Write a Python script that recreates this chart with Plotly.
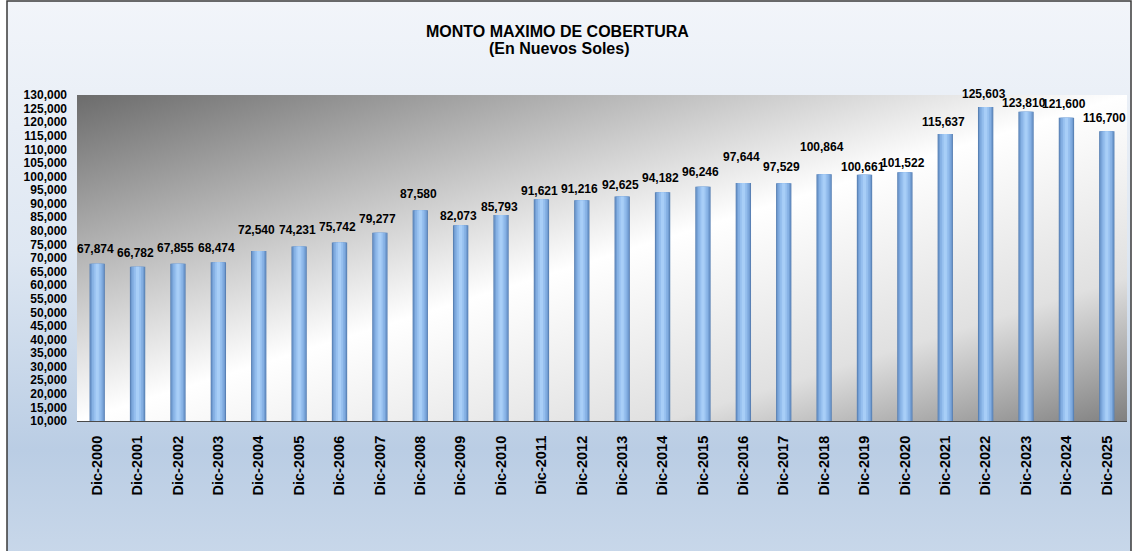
import base64
import plotly.graph_objects as go

# ---- data ----
categories = ["Dic-2000", "Dic-2001", "Dic-2002", "Dic-2003", "Dic-2004", "Dic-2005",
              "Dic-2006", "Dic-2007", "Dic-2008", "Dic-2009", "Dic-2010", "Dic-2011",
              "Dic-2012", "Dic-2013", "Dic-2014", "Dic-2015", "Dic-2016", "Dic-2017",
              "Dic-2018", "Dic-2019", "Dic-2020", "Dic-2021", "Dic-2022", "Dic-2023",
              "Dic-2024", "Dic-2025"]
values = [67874, 66782, 67855, 68474, 72540, 74231, 75742, 79277, 87580, 82073,
          85793, 91621, 91216, 92625, 94182, 96246, 97644, 97529, 100864, 100661,
          101522, 115637, 125603, 123810, 121600, 116700]
title_line1 = "MONTO MAXIMO DE COBERTURA"
title_line2 = "(En Nuevos Soles)"
y_min, y_max, y_step = 10000, 130000, 5000

# label lift above each bar top (pixels, style only), as placed in the original chart
label_lift = [15, 14, 16, 14, 21, 17, 15, 14, 16, 9, 8, 8, 11, 12, 14, 15,
              26, 16, 27, 8, 9, 12, 13, 9, 14, 13]

W, H = 1137, 551
L, R, T, B = 77, 10, 95, 130
PW, PH = W - L - R, H - T - B

FONT = "Liberation Sans, Arial, sans-serif"


def svg_uri(svg):
    return "data:image/svg+xml;base64," + base64.b64encode(svg.encode()).decode()


paper_svg = f"""<svg xmlns='http://www.w3.org/2000/svg' width='{W}' height='{H}' viewBox='0 0 {W} {H}' preserveAspectRatio='none'>
<defs><linearGradient id='g' x1='0' y1='0' x2='0' y2='1'>
<stop offset='0' stop-color='#F2F5FA'/>
<stop offset='0.45' stop-color='#DEE7F2'/>
<stop offset='0.8' stop-color='#BACDE4'/>
<stop offset='1' stop-color='#C9D8EA'/>
</linearGradient></defs>
<rect x='0' y='0' width='{W}' height='{H}' fill='#ffffff'/>
<rect x='7' y='1' width='{W-13}' height='{H+10}' fill='url(#g)' stroke='#3a3a3a' stroke-width='1.5'/>
</svg>"""

plot_svg = f"""<svg xmlns='http://www.w3.org/2000/svg' width='{PW}' height='{PH}' viewBox='0 0 {PW} {PH}' preserveAspectRatio='none'>
<defs><linearGradient id='p' x1='0' y1='0' x2='1' y2='1'>
<stop offset='0' stop-color='#6C6C6C'/>
<stop offset='0.5' stop-color='#FFFFFF'/>
<stop offset='0.78' stop-color='#E0E0E0'/>
<stop offset='1' stop-color='#808080'/>
</linearGradient></defs>
<rect x='0' y='0' width='{PW}' height='{PH}' fill='url(#p)'/>
</svg>"""

fig = go.Figure()

# cylinder-like bars: stacked overlay layers, widest (darkest) first
layers = [(0.38, "#5A82B5"), (0.33, "#729DD2"), (0.26, "#86B1E4"), (0.17, "#97C0EF"), (0.08, "#A8CEF7")]
for i, (w, c) in enumerate(layers):
    fig.add_trace(go.Bar(
        x=categories, y=values, width=w,
        marker=dict(color=c, line=dict(width=0)),
        hoverinfo="skip" if i else "x+y",
        showlegend=False,
    ))

label_font = dict(family=FONT, size=12, color="#000000", weight="bold")
annotations = [
    dict(x=c, y=v, xref="x", yref="y", text=f"{v:,}", showarrow=False,
         xanchor="center", yanchor="middle", yshift=s, xshift=-2, font=label_font)
    for c, v, s in zip(categories, values, label_lift)
]
title_font = dict(family=FONT, size=16, color="#000000", weight="bold")
annotations += [
    dict(text=title_line1, xref="paper", yref="paper",
         x=(557 - L) / PW, y=(H - B - 31) / PH, xanchor="center", yanchor="middle",
         showarrow=False, font=title_font),
    dict(text=title_line2, xref="paper", yref="paper",
         x=(559 - L) / PW, y=(H - B - 49) / PH, xanchor="center", yanchor="middle",
         showarrow=False, font=title_font),
]

fig.update_layout(
    width=W, height=H,
    margin=dict(l=L, r=R, t=T, b=B, pad=0),
    barmode="overlay",
    paper_bgcolor="#DDE6F1",
    plot_bgcolor="#FFFFFF",
    showlegend=False,
    images=[
        dict(source=svg_uri(paper_svg), xref="paper", yref="paper",
             x=-L / PW, y=1 + T / PH, sizex=W / PW, sizey=H / PH,
             xanchor="left", yanchor="top", sizing="stretch", layer="below"),
        dict(source=svg_uri(plot_svg), xref="paper", yref="paper",
             x=0, y=1, sizex=1, sizey=1,
             xanchor="left", yanchor="top", sizing="stretch", layer="below"),
    ],
    annotations=annotations,
)

fig.update_xaxes(
    type="category",
    range=[-0.5, len(categories) - 0.5],
    tickangle=-90,
    tickfont=dict(family=FONT, size=14.5, color="#000000", weight="bold"),
    ticks="", ticklabelstandoff=8,
    showline=True, linecolor="#4a4a4a", linewidth=1,
    showgrid=False, zeroline=False,
)
fig.update_yaxes(
    range=[y_min, y_max], dtick=y_step, tick0=y_min,
    tickformat=",d",
    tickfont=dict(family=FONT, size=12, color="#000000", weight="bold"),
    ticks="", ticklabelstandoff=9,
    showline=False, showgrid=False, zeroline=False,
)

fig.write_html("out.html", config={"displayModeBar": False},
               post_script="document.body.style.margin='0px';document.body.style.overflow='hidden';")
